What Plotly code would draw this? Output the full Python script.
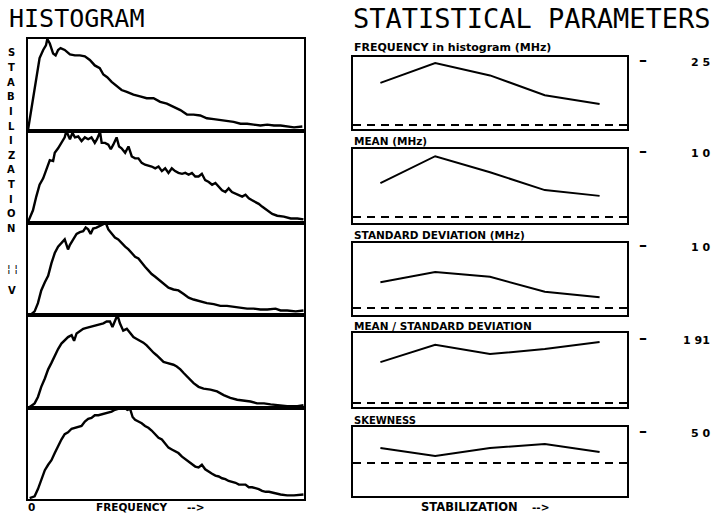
import plotly.graph_objects as go

W, H = 714, 516

# ---------------- data ----------------
# Histograms (frequency fraction of panel width, normalized counts)
h1_x = [0.0, .024, .042, .055, .065, .07, .079, .091, .1, .109, .118, .133, .152, .17, .188, .206, .224, .242, .26, .273,
        .287, .303, .321, .339, .358, .382, .406, .43, .455, .479, .503, .527, .552, .576, .6, .624, .648, .673, .697, .721,
        .745, .77, .794, .818, .842, .867, .891, .915, .939, .964, .994]
h1_y = [0.0, .46, .79, .88, .93, 1.0, .95, .84, .82, .88, .90, .88, .83, .82, .82, .81, .77, .71, .68, .61,
        .58, .53, .48, .44, .42, .39, .37, .35, .35, .31, .29, .26, .22, .17, .17, .16, .13, .12, .11, .10,
        .09, .07, .07, .06, .05, .06, .05, .05, .04, .03, .04]

h2_x = [0.0, .018, .03, .042, .055, .067, .079, .091, .097, .109,
        .121, .133, .139, .152, .161, .17, .182, .194, .206, .218,
        .23, .242, .25, .261, .267, .279, .291, .3, .309, .321,
        .33, .339, .352, .364, .376, .388, .4, .412, .424, .436,
        .448, .461, .473, .485, .497, .509, .521, .533, .545, .558,
        .57, .582, .594, .606, .618, .63, .642, .655, .667, .679,
        .691, .703, .715, .727, .739, .752, .764, .776, .788, .8,
        .812, .824, .836, .848, .867, .885, .903, .927, .952, .976,
        .998]
h2_y = [0.0, .13, .28, .41, .48, .59, .68, .67, .76, .81,
        .87, .93, 1.0, .91, .98, .93, .94, .89, .93, .91,
        .93, .87, .91, .99, .87, .87, .85, .80, .85, .93,
        .83, .81, .76, .83, .72, .70, .70, .65, .63, .62,
        .61, .59, .61, .56, .59, .54, .59, .56, .54, .53,
        .54, .52, .54, .50, .50, .53, .46, .44, .41, .43,
        .39, .35, .33, .37, .33, .31, .30, .28, .30, .26,
        .24, .22, .20, .17, .13, .09, .07, .06, .04, .04,
        .03]

h3_x = [.012, .024, .036, .048, .061, .073, .085, .097, .109, .121,
        .133, .145, .152, .164, .176, .188, .2, .209, .218, .227,
        .236, .248, .261, .27, .282, .291, .303, .315, .327, .339,
        .352, .364, .376, .388, .4, .412, .424, .436, .448, .461,
        .473, .485, .497, .509, .527, .545, .564, .582, .6, .624,
        .648, .673, .697, .721, .745, .77, .794, .818, .842, .867,
        .897, .915, .939, .97, .998]
h3_y = [0, .03, .12, .26, .35, .42, .56, .67, .74, .78,
        .82, .71, .76, .82, .88, .90, .91, .95, .93, .88,
        .94, .95, .97, .98, 1.0, .93, .89, .84, .82, .78,
        .74, .71, .67, .63, .61, .56, .52, .48, .44, .41,
        .38, .35, .31, .29, .27, .26, .22, .18, .16, .14,
        .12, .11, .09, .09, .08, .07, .06, .06, .05, .05,
        .06, .04, .04, .03, .04]

h4_x = [.006, .024, .036, .048, .061, .073, .085, .097, .109, .121,
        .133, .145, .158, .167, .176, .188, .2, .212, .224, .236,
        .248, .261, .273, .285, .297, .306, .315, .324, .333, .345,
        .358, .37, .382, .394, .406, .418, .43, .442, .455, .467,
        .479, .491, .503, .515, .527, .539, .552, .564, .576, .588,
        .6, .618, .636, .661, .685, .709, .733, .758, .782, .806,
        .83, .855, .879, .903, .939, .976, .998]
h4_y = [0, .04, .11, .22, .31, .41, .48, .56, .63, .69,
        .72, .76, .78, .72, .80, .83, .85, .86, .87, .88,
        .89, .90, .91, .93, .93, .87, .93, 1.0, .91, .83,
        .85, .80, .76, .74, .72, .70, .67, .63, .59, .56,
        .52, .49, .48, .47, .46, .44, .41, .37, .33, .30,
        .26, .22, .20, .19, .17, .13, .10, .08, .07, .06,
        .04, .04, .03, .02, .01, .01, .02]

h5_x = [.006, .024, .036, .048, .061, .073, .085, .097, .109, .121,
        .133, .145, .158, .17, .182, .194, .206, .218, .23, .242,
        .255, .267, .279, .291, .303, .315, .327, .339, .352, .36,
        .37, .379, .388, .4, .412, .424, .436, .448, .461, .473,
        .485, .497, .509, .521, .533, .545, .558, .57, .582, .594,
        .606, .618, .63, .642, .655, .667, .679, .691, .703, .715,
        .727, .739, .752, .764, .776, .788, .8, .812, .824, .836,
        .848, .861, .873, .885, .897, .915, .939, .964, .998]
h5_y = [0, .02, .10, .21, .31, .37, .42, .50, .58, .65,
        .71, .73, .77, .78, .79, .80, .85, .88, .89, .92,
        .92, .93, .94, .95, .96, .98, .99, .99, 1.0, .98,
        .99, .90, .87, .85, .83, .80, .78, .75, .71, .67,
        .65, .60, .56, .54, .52, .50, .46, .43, .40, .38,
        .35, .34, .37, .32, .29, .27, .25, .24, .22, .21,
        .19, .18, .17, .15, .15, .15, .12, .12, .11, .10,
        .08, .07, .07, .06, .05, .04, .03, .03, .04]

# Statistical parameters vs stabilization level
stab = [1, 2, 3, 4, 5]
freq_hist = [1.70, 2.50, 2.00, 1.20, 0.85]
mean_mhz = [0.53, 0.95, 0.70, 0.42, 0.33]
sd_mhz = [0.43, 0.60, 0.52, 0.27, 0.18]
mean_over_sd = [1.26, 1.79, 1.51, 1.66, 1.88]
skewness = [2.50, 1.17, 2.50, 3.17, 1.83]

param_titles = ["FREQUENCY in histogram (MHz)", "MEAN (MHz)", "STANDARD DEVIATION (MHz)",
                "MEAN / STANDARD DEVIATION", "SKEWNESS"]
scale_vals = [2.5, 1.0, 1.0, 1.91, 5.0]
scale_text = ["2 5", "1 0", "1 0", "1 91", "5 0"]

# ---------------- layout geometry (pixels) ----------------
def px(x):
    return x / W

def py(y):
    return 1 - y / H

hist_left, hist_right = 28, 304
hist_bounds = [(39, 131), (131, 223), (223, 315), (315, 408), (408, 499)]
par_left, par_right = 353, 627
par_bounds = [(57, 129), (149, 223), (243, 315), (333, 407), (427, 496)]
par_ranges = [[-0.161, 2.742], [-0.094, 1.0625], [-0.117, 1.083], [-0.123, 2.156], [-5.5, 6.0]]
title_y = [48, 141, 235, 326, 420]
title_size = [11, 10.5, 10.5, 10.5, 10]

fig = go.Figure()
layout = dict(width=W, height=H, autosize=False, margin=dict(l=0, r=0, t=0, b=0),
              paper_bgcolor="white", plot_bgcolor="white", showlegend=False)

axis_common = dict(showgrid=False, zeroline=False, showticklabels=False, ticks="",
                   showline=True, mirror=True, linecolor="black", linewidth=2, fixedrange=True)

hists = [(h1_x, h1_y), (h2_x, h2_y), (h3_x, h3_y), (h4_x, h4_y), (h5_x, h5_y)]
for i, ((hx, hy), (t, b)) in enumerate(zip(hists, hist_bounds)):
    n = i + 1
    sfx = "" if n == 1 else str(n)
    layout["xaxis" + sfx] = dict(axis_common, domain=[px(hist_left), px(hist_right)], range=[0, 1],
                                 anchor="y" + sfx)
    layout["yaxis" + sfx] = dict(axis_common, domain=[py(b), py(t)], range=[-0.01, 1.0],
                                 anchor="x" + sfx)
    fig.add_trace(go.Scatter(x=hx, y=hy, mode="lines", line=dict(color="black", width=2.4),
                             xaxis="x" + sfx, yaxis="y" + sfx, hoverinfo="skip"))

bold_dv = dict(family="DejaVu Sans", color="black", weight="bold")

params = [freq_hist, mean_mhz, sd_mhz, mean_over_sd, skewness]
shapes = []
annotations = []
for i, (vals, (t, b)) in enumerate(zip(params, par_bounds)):
    n = i + 6
    sfx = str(n)
    layout["xaxis" + sfx] = dict(axis_common, domain=[px(par_left), px(par_right)], range=[0.5, 5.5],
                                 anchor="y" + sfx)
    layout["yaxis" + sfx] = dict(axis_common, domain=[py(b), py(t)], range=par_ranges[i],
                                 anchor="x" + sfx)
    fig.add_trace(go.Scatter(x=stab, y=vals, mode="lines", line=dict(color="black", width=2),
                             xaxis="x" + sfx, yaxis="y" + sfx, hoverinfo="skip"))
    shapes.append(dict(type="line", xref="x" + sfx + " domain", x0=0, x1=1,
                       yref="y" + sfx, y0=0, y1=0,
                       line=dict(color="black", width=2, dash="8px,6px")))
    annotations.append(dict(text=param_titles[i], xref="paper", yref="paper",
                            x=px(352), y=py(title_y[i]), xanchor="left", yanchor="middle",
                            showarrow=False, font=dict(bold_dv, size=title_size[i])))
    annotations.append(dict(text="–", xref="paper", yref="y" + sfx, x=px(643), y=scale_vals[i],
                            xanchor="center", yanchor="middle", yshift=3, showarrow=False,
                            font=dict(bold_dv, size=16)))
    annotations.append(dict(text=scale_text[i], xref="paper", yref="y" + sfx, x=px(712), y=scale_vals[i],
                            xanchor="right", yanchor="middle", showarrow=False,
                            font=dict(bold_dv, size=11)))

# big titles
annotations.append(dict(text="HISTOGRAM", xref="paper", yref="paper", x=px(7), y=py(19),
                        xanchor="left", yanchor="middle", showarrow=False,
                        font=dict(family="DejaVu Sans Mono", size=25, color="black")))
annotations.append(dict(text="STATISTICAL PARAMETERS", xref="paper", yref="paper", x=px(351), y=py(19),
                        xanchor="left", yanchor="middle", showarrow=False,
                        font=dict(family="DejaVu Sans Mono", size=27, color="black")))

# vertical axis label: stacked letters
vert = "STABILIZATION"
for k, ch in enumerate(vert):
    annotations.append(dict(text=ch, xref="paper", yref="paper", x=px(11), y=py(53 + k * 14.6),
                            xanchor="center", yanchor="middle", showarrow=False,
                            font=dict(bold_dv, size=10)))
annotations.append(dict(text="¦ ¦", xref="paper", yref="paper", x=px(12), y=py(268),
                        xanchor="center", yanchor="middle", showarrow=False,
                        font=dict(family="DejaVu Sans", size=11, color="black")))
annotations.append(dict(text="V", xref="paper", yref="paper", x=px(12), y=py(290),
                        xanchor="center", yanchor="middle", showarrow=False,
                        font=dict(bold_dv, size=10)))

# bottom labels
bottom_font = dict(bold_dv, size=10.5)
annotations.append(dict(text="0", xref="paper", yref="paper", x=px(31), y=py(507),
                        xanchor="center", yanchor="middle", showarrow=False, font=bottom_font))
annotations.append(dict(text="FREQUENCY", xref="paper", yref="paper", x=px(94), y=py(507),
                        xanchor="left", yanchor="middle", showarrow=False, font=bottom_font))
annotations.append(dict(text="-->", xref="paper", yref="paper", x=px(185), y=py(507),
                        xanchor="left", yanchor="middle", showarrow=False, font=bottom_font))
annotations.append(dict(text="STABILIZATION", xref="paper", yref="paper", x=px(419), y=py(507),
                        xanchor="left", yanchor="middle", showarrow=False, font=dict(bold_dv, size=11.5)))
annotations.append(dict(text="-->", xref="paper", yref="paper", x=px(530), y=py(507),
                        xanchor="left", yanchor="middle", showarrow=False, font=bottom_font))

layout["shapes"] = shapes
layout["annotations"] = annotations
fig.update_layout(**layout)
fig.write_html("out.html", config={"displayModeBar": False})
